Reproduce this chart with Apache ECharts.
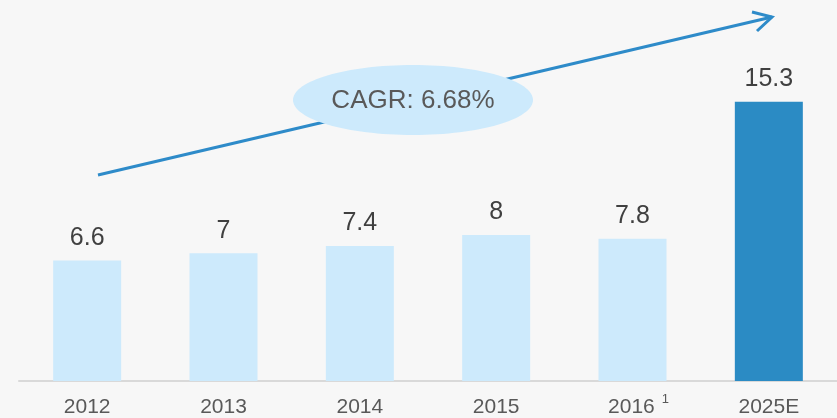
<!DOCTYPE html>
<html><head><meta charset="utf-8">
<script src="https://cdn.jsdelivr.net/npm/echarts@6/dist/echarts.min.js"></script>
<style>html,body{margin:0;padding:0;background:#f7f7f7}#c{width:837px;height:418px}</style>
</head><body><div id="c"></div>
<script>
const categories = ['2012','2013','2014','2015','2016','2025E'];
const values = [6.6, 7, 7.4, 8, 7.8, 15.3];
const highlight = [false,false,false,false,false,true];
const footnoted = '2016';
const cagrText = 'CAGR: 6.68%';

const chart = echarts.init(document.getElementById('c'));
chart.setOption({
  backgroundColor:'#f7f7f7',
  animation:false,
  grid:{left:19,right:0,top:16,bottom:36},
  xAxis:{type:'category',data:categories,
    axisLine:{lineStyle:{color:'#d9d9d9',width:2}},
    axisTick:{show:false},
    axisLabel:{interval:0,hideOverlap:false,margin:12,fontFamily:'Liberation Sans',fontSize:21,color:'#595959',
      formatter:function(v){return v===footnoted?'{b|'+v+'}{sup|1}':'{a|'+v+'}';},
      rich:{
        a:{fontSize:21,lineHeight:29,color:'#595959',fontFamily:'Liberation Sans'},
        b:{fontSize:21,lineHeight:29,color:'#595959',fontFamily:'Liberation Sans',padding:[0,0,0,12]},
        sup:{fontSize:13,lineHeight:13,color:'#595959',fontFamily:'Liberation Sans',verticalAlign:'top',padding:[0,0,0,7]}}}
  },
  yAxis:{type:'value',min:0,max:20,show:false,splitLine:{show:false}},
  series:[{type:'bar',barWidth:68,
    data:values.map((v,i)=>({value:v,itemStyle:{color:highlight[i]?'#2b8bc4':'#cdeafc'}})),
    label:{show:true,position:'top',distance:10,fontFamily:'Liberation Sans',fontSize:25,color:'#404040'}
  }],
  graphic:[
    {type:'line',shape:{x1:98,y1:175,x2:772,y2:17},style:{stroke:'#2e8bc9',lineWidth:3},z:10},
    {type:'polyline',shape:{points:[[752,12],[772,17],[757,31]]},style:{stroke:'#2e8bc9',lineWidth:3,fill:null},z:10},
    {type:'ellipse',shape:{cx:413,cy:100,rx:120,ry:35},style:{fill:'#cdeafc'},z:11},
    {type:'text',x:413,y:101,style:{text:cagrText,fontFamily:'Liberation Sans',fontSize:26,fill:'#595959',align:'center',verticalAlign:'middle'},z:12}
  ]
});
</script></body></html>
